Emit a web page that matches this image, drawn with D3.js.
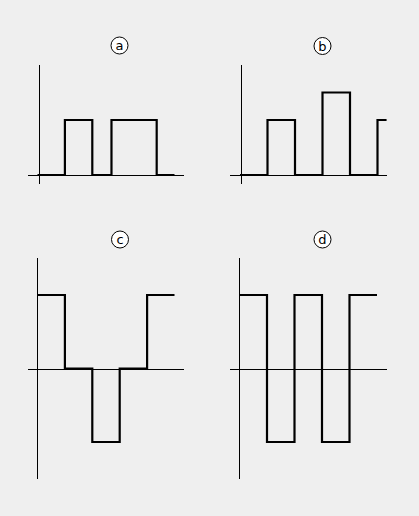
<!DOCTYPE html>
<html><head><meta charset="utf-8">
<script src="https://cdn.jsdelivr.net/npm/d3@7"></script>
<style>html,body{margin:0;padding:0;background:#efefef;}svg{display:block;}</style>
</head><body>
<svg id="c" width="419" height="516"></svg>
<script>
// Panel labels
const panelLabels = ["a", "b", "c", "d"];
// Step-signal breakpoints (time units) and levels (value held from each breakpoint)
const timesA = [0, 1, 2, 2.7, 4.35, 5];
const levelsA = [0, 1, 0, 1, 0];
const timesB = [0, 1, 2, 3, 4, 5, 5.33];
const levelsB = [0, 1, 0, 1.5, 0, 1];
const timesC = [0, 1, 2, 3, 4, 5];
const levelsC = [1, 0, -1, 0, 1];
const timesD = [0, 1, 2, 3, 4, 5];
const levelsD = [1, -1, 1, -1, 1];

const svg = d3.select("#c");

const panels = [
  {label: panelLabels[0], times: timesA, levels: levelsA, x0: 37.5, u: 27.4, yDom:[0,1], yRange:[175,120], vx: 39.5, vy:[65,184], hy:175.5, hx:[28,184], lab:[119.5,45.5]},
  {label: panelLabels[1], times: timesB, levels: levelsB, x0: 240, u: 27.5, yDom:[0,1], yRange:[175,120], vx: 241.5, vy:[65,184], hy:175.5, hx:[230,387], lab:[322.5,46]},
  {label: panelLabels[2], times: timesC, levels: levelsC, x0: 37.5, u: 27.4, yDom:[-1,1], yRange:[442,295], vx: 37.5, vy:[258,479], hy:369.5, hx:[28,184], lab:[120,239.5]},
  {label: panelLabels[3], times: timesD, levels: levelsD, x0: 239.5, u: 27.5, yDom:[-1,1], yRange:[442,295], vx: 239.5, vy:[258,479], hy:369.5, hx:[230,387], lab:[322.5,239.5]}
];

panels.forEach(p => {
  const g = svg.append("g");
  const x = d3.scaleLinear().domain([0, 5]).range([p.x0, p.x0 + 5 * p.u]);
  const y = d3.scaleLinear().domain(p.yDom).range(p.yRange);
  // axes
  g.append("line").attr("x1", p.vx).attr("x2", p.vx).attr("y1", p.vy[0]).attr("y2", p.vy[1])
    .attr("stroke", "#000").attr("stroke-width", 1);
  g.append("line").attr("x1", p.hx[0]).attr("x2", p.hx[1]).attr("y1", p.hy).attr("y2", p.hy)
    .attr("stroke", "#000").attr("stroke-width", 1);
  // signal
  const pts = p.times.map((t, i) => [t, p.levels[Math.min(i, p.levels.length - 1)]]);
  const line = d3.line().x(d => x(d[0])).y(d => y(d[1])).curve(d3.curveStepAfter);
  g.append("path").attr("d", line(pts)).attr("fill", "none").attr("stroke", "#000")
    .attr("stroke-width", 2.2).attr("stroke-linejoin", "miter").attr("stroke-linecap", "butt");
  // circled label
  g.append("circle").attr("cx", p.lab[0]).attr("cy", p.lab[1]).attr("r", 8.5)
    .attr("fill", "#fff").attr("stroke", "#000").attr("stroke-width", 1);
  g.append("text").attr("x", p.lab[0]).attr("y", p.lab[1]).attr("dy", "0.35em")
    .attr("text-anchor", "middle").attr("font-family", "DejaVu Sans, sans-serif")
    .attr("font-size", 13).attr("fill", "#000").text(p.label);
});
</script>
</body></html>
